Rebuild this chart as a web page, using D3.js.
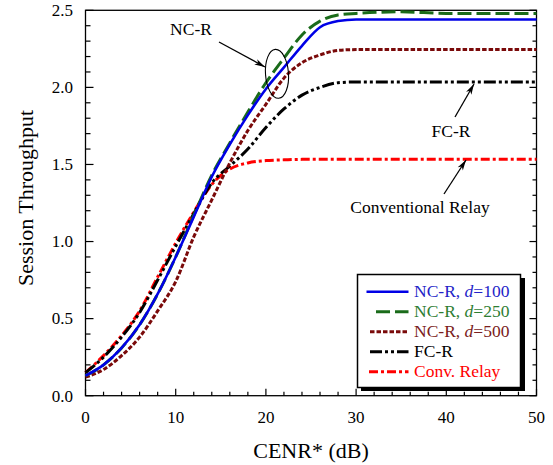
<!DOCTYPE html>
<html><head><meta charset="utf-8">
<script src="https://cdn.jsdelivr.net/npm/d3@7"></script>
<style>body{margin:0;background:#fff}svg{display:block}</style>
</head><body><svg id="c" width="553" height="465"></svg>
<script>
const cenr = [0,2,4,6,8,10,12,14,16,18,20,22,24,26,28,30,35,40,45,50];
const ncr100 = [0.13,0.20,0.31,0.46,0.66,0.90,1.16,1.42,1.63,1.82,1.99,2.13,2.27,2.39,2.43,2.44,2.44,2.44,2.44,2.44];
const ncr250 = [0.13,0.20,0.31,0.46,0.66,0.90,1.17,1.43,1.64,1.84,2.03,2.19,2.34,2.43,2.47,2.48,2.49,2.48,2.48,2.48];
const ncr500 = [0.12,0.17,0.26,0.38,0.55,0.74,1.03,1.27,1.51,1.72,1.89,2.06,2.16,2.21,2.24,2.245,2.245,2.245,2.245,2.245];
const fcr    = [0.15,0.25,0.38,0.54,0.75,0.97,1.18,1.38,1.49,1.60,1.74,1.86,1.95,2.00,2.03,2.035,2.035,2.035,2.035,2.035];
const conv   = [0.15,0.26,0.39,0.55,0.77,0.99,1.19,1.37,1.47,1.51,1.525,1.53,1.533,1.533,1.533,1.533,1.533,1.533,1.533,1.533];
const seriesNames = ["NC-R, d=100","NC-R, d=250","NC-R, d=500","FC-R","Conv. Relay"];
const xTicks = [0,10,20,30,40,50];
const yTicks = [0.0,0.5,1.0,1.5,2.0,2.5];

const FONT = "Liberation Serif";
const svg = d3.select("#c");
const L=85.5,R=536.5,T=10.3,B=395.7;
const x = d3.scaleLinear().domain([0,50]).range([L,R]);
const y = d3.scaleLinear().domain([0,2.5]).range([B,T]);

function txt(sel){ return sel.append("text").style("font-family",FONT); }

const styles = [
  {data:ncr100,color:"#0000e6",dash:null,w:2.6,tcol:"#2323c8"},
  {data:ncr250,color:"#1a6b1a",dash:"14,5",w:3,tcol:"#2e7d32"},
  {data:ncr500,color:"#7a0a0a",dash:"4.5,2",w:3,tcol:"#7a2020"},
  {data:fcr,color:"#000000",dash:"12,3,3,3,3,3",w:3,tcol:"#000"},
  {data:conv,color:"#ff0000",dash:"9,3,3,3",w:3,tcol:"#ff0000"}
];

svg.append("rect").attr("x",L).attr("y",T).attr("width",R-L).attr("height",B-T)
  .attr("fill","none").attr("stroke","#000").attr("stroke-width",1.3);

const line = d3.line().x((d,i)=>x(cenr[i])).y(d=>y(d)).curve(d3.curveMonotoneX);
const plot = svg.append("g");
styles.slice().reverse().forEach(s=>{
  plot.append("path").attr("d",line(s.data)).attr("fill","none")
    .attr("stroke",s.color).attr("stroke-width",s.w)
    .attr("stroke-dasharray",s.dash).attr("stroke-linejoin","round");
});

const ax = svg.append("g").attr("stroke","#000").attr("stroke-width",1.2);
d3.range(0,51,2).forEach(v=>{
  const major = v%10===0;
  ax.append("line").attr("x1",x(v)).attr("x2",x(v)).attr("y1",B).attr("y2",B-(major?7:4));
});
d3.range(0,26).forEach(k=>{
  const v=k/10, major = k%5===0;
  ax.append("line").attr("x1",L).attr("x2",L+(major?8:5)).attr("y1",y(v)).attr("y2",y(v));
  ax.append("line").attr("x1",R).attr("x2",R-(major?7:4)).attr("y1",y(v)).attr("y2",y(v));
});
xTicks.forEach(v=>{
  txt(svg).attr("x",x(v)).attr("y",423).attr("text-anchor","middle")
    .attr("font-size",17).text(v);
});
yTicks.forEach(v=>{
  txt(svg).attr("x",73).attr("y",y(v)+5.8).attr("text-anchor","end")
    .attr("font-size",17).text(v.toFixed(1));
});
txt(svg).attr("x",(L+R)/2).attr("y",458).attr("text-anchor","middle")
  .attr("font-size",22).text("CENR* (dB)");
txt(svg).attr("transform",`translate(33,198) rotate(-90)`)
  .attr("text-anchor","middle").attr("font-size",22).text("Session Throughput");

function arrow(x1,y1,x2,y2){
  svg.append("line").attr("x1",x1).attr("y1",y1).attr("x2",x2).attr("y2",y2)
    .attr("stroke","#000").attr("stroke-width",1.3);
  const a=Math.atan2(y2-y1,x2-x1), hl=11, hw=0.28;
  const p1=[x2-hl*Math.cos(a-hw),y2-hl*Math.sin(a-hw)];
  const p2=[x2-hl*Math.cos(a+hw),y2-hl*Math.sin(a+hw)];
  const pm=[x2-hl*0.7*Math.cos(a),y2-hl*0.7*Math.sin(a)];
  svg.append("path").attr("d",`M${x2},${y2}L${p1}L${pm}L${p2}Z`).attr("fill","#000");
}
txt(svg).attr("x",191).attr("y",35).attr("text-anchor","middle").attr("font-size",17.5).text("NC-R");
arrow(219,42,265,67);
svg.append("ellipse").attr("cx",277).attr("cy",73.8).attr("rx",11.5).attr("ry",24.5)
  .attr("fill","none").attr("stroke","#000").attr("stroke-width",1.1)
  .attr("transform","rotate(-4,277,73.8)");
txt(svg).attr("x",451).attr("y",137).attr("text-anchor","middle").attr("font-size",17.5).text("FC-R");
arrow(455,117,474,84);
txt(svg).attr("x",420).attr("y",213).attr("text-anchor","middle").attr("font-size",17.5).text("Conventional Relay");
arrow(444,194,466,160);

const lg = svg.append("g");
lg.append("rect").attr("x",361).attr("y",278).attr("width",164).attr("height",113).attr("fill","#000");
lg.append("rect").attr("x",357.5).attr("y",274.5).attr("width",163).attr("height",113)
  .attr("fill","#fff").attr("stroke","#000").attr("stroke-width",1.5);
const ly0=291.7, ldy=20;
const lx1 = [366.5,376,370,370,369];
styles.forEach((s,i)=>{
  const yy = ly0+i*ldy;
  lg.append("line").attr("x1",lx1[i]).attr("x2",408.5).attr("y1",yy).attr("y2",yy)
    .attr("stroke",s.color).attr("stroke-width",s.w).attr("stroke-dasharray",s.dash);
  const t = txt(lg).attr("x",414).attr("y",yy+5.5).attr("font-size",17.5).attr("fill",s.tcol);
  const nm = seriesNames[i];
  if(nm.includes("d=")){
    const parts = nm.split("d=");
    t.append("tspan").text(parts[0]);
    t.append("tspan").attr("font-style","italic").text("d");
    t.append("tspan").text("="+parts[1]);
  } else t.text(nm);
});
</script></body></html>
